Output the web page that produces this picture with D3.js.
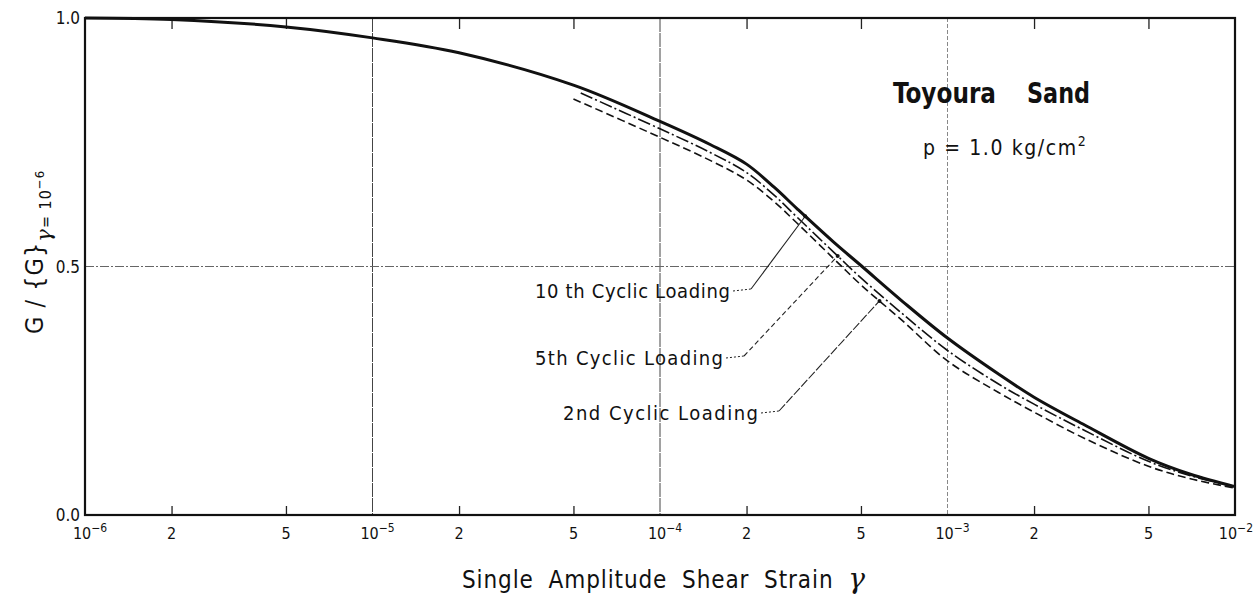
<!DOCTYPE html>
<html>
<head>
<meta charset="utf-8">
<script src="https://cdn.jsdelivr.net/npm/d3@7"></script>
<style>
  html, body { margin: 0; padding: 0; background: #fff; }
  svg { display: block; }
  text { font-family: "DejaVu Sans Condensed", "Liberation Sans Narrow", "DejaVu Sans", sans-serif; fill: #111; }
</style>
</head>
<body>
<svg id="chart" width="1256" height="596"></svg>
<script>
// Shear modulus reduction of Toyoura sand, p = 1.0 kg/cm2
// strain values (single amplitude) and normalised modulus G / G(γ=1e-6)

const strain10 = [1e-6, 2e-6, 5e-6, 1e-5, 2e-5, 5e-5, 1e-4, 1.5e-4, 2e-4, 2.5e-4, 3e-4, 4e-4, 5e-4, 7e-4, 1e-3, 1.5e-3, 2e-3, 3e-3, 5e-3, 7e-3, 1e-2];
const ratio10  = [1.0, 0.997, 0.982, 0.96, 0.93, 0.865, 0.792, 0.745, 0.706, 0.659, 0.616, 0.55, 0.502, 0.429, 0.356, 0.284, 0.237, 0.181, 0.114, 0.082, 0.057];

const strain5 = [5.3e-5, 1e-4, 1.5e-4, 2e-4, 2.5e-4, 3e-4, 4e-4, 5e-4, 7e-4, 1e-3, 1.5e-3, 2e-3, 3e-3, 5e-3, 7e-3, 1e-2];
const ratio5  = [0.849, 0.777, 0.729, 0.689, 0.643, 0.599, 0.53, 0.477, 0.404, 0.331, 0.264, 0.223, 0.17, 0.108, 0.079, 0.057];

const strain2 = [5e-5, 1e-4, 1.5e-4, 2e-4, 2.5e-4, 3e-4, 4e-4, 5e-4, 7e-4, 1e-3, 1.5e-3, 2e-3, 3e-3, 5e-3, 7e-3, 1e-2];
const ratio2  = [0.837, 0.76, 0.713, 0.674, 0.63, 0.587, 0.517, 0.463, 0.39, 0.31, 0.247, 0.207, 0.154, 0.098, 0.073, 0.054];

// axis ticks
const xTickValues = [1e-6, 2e-6, 5e-6, 1e-5, 2e-5, 5e-5, 1e-4, 2e-4, 5e-4, 1e-3, 2e-3, 5e-3, 1e-2];
const xTickLabels = ["10^-6", "2", "5", "10^-5", "2", "5", "10^-4", "2", "5", "10^-3", "2", "5", "10^-2"];
const xGridValues = [1e-5, 1e-4, 1e-3];
const yTickValues = [0, 0.5, 1.0];
const yTickLabels = ["0.0", "0.5", "1.0"];

// leader annotations: label, curve, strain at which the leader meets the curve
const noteLabels  = ["10 th  Cyclic  Loading", "5th  Cyclic  Loading", "2nd  Cyclic  Loading"];
const noteStrains = [3.2e-4, 4.15e-4, 5.8e-4];

const svg = d3.select("#chart");
const mLeft = 85, mRight = 1235, mTop = 18, mBottom = 515;

const x = d3.scaleLog().domain([1e-6, 1e-2]).range([mLeft, mRight]);
const y = d3.scaleLinear().domain([0, 1]).range([mBottom, mTop]);

// grid lines
svg.append("g").selectAll("line").data(xGridValues).join("line")
  .attr("x1", d => x(d)).attr("x2", d => x(d))
  .attr("y1", mTop).attr("y2", mBottom)
  .attr("stroke", (d, i) => i === 2 ? "#888" : "#444")
  .attr("stroke-width", 1)
  .attr("stroke-dasharray", (d, i) => i === 2 ? "4,2" : "14,1");

svg.append("line")
  .attr("x1", mLeft).attr("x2", mRight)
  .attr("y1", y(0.5)).attr("y2", y(0.5))
  .attr("stroke", "#666").attr("stroke-width", 1)
  .attr("stroke-dasharray", "9,2,2,2");

// minor ticks (2 and 5 of every decade) on bottom and top
const minor = xTickValues.filter((d, i) => !xTickLabels[i].startsWith("10"));
svg.append("g").attr("transform", `translate(0,${mBottom})`)
  .call(d3.axisBottom(x).tickValues(minor).tickSize(-9).tickFormat(""))
  .call(g => g.select(".domain").remove())
  .call(g => g.selectAll("line").attr("stroke", "#222").attr("stroke-width", 1.3));
svg.append("g").attr("transform", `translate(0,${mTop})`)
  .call(d3.axisTop(x).tickValues(minor).tickSize(-11).tickFormat(""))
  .call(g => g.select(".domain").remove())
  .call(g => g.selectAll("line").attr("stroke", "#222").attr("stroke-width", 1.3));

// frame
svg.append("rect")
  .attr("x", mLeft).attr("y", mTop)
  .attr("width", mRight - mLeft).attr("height", mBottom - mTop)
  .attr("fill", "none").attr("stroke", "#111").attr("stroke-width", 2.2);

// x tick labels
const lastTick = xTickValues.length - 1;
const xl = svg.append("g").selectAll("text").data(xTickValues).join("text")
  .attr("x", (d, i) => i === lastTick ? 1253 : x(d) + (xTickLabels[i].startsWith("10") ? 5 : 0))
  .attr("y", 539)
  .attr("text-anchor", (d, i) => i === lastTick ? "end" : "middle")
  .attr("font-size", 16);
xl.each(function (d, i) {
  const lab = xTickLabels[i];
  const t = d3.select(this);
  if (lab.startsWith("10^")) {
    t.append("tspan").text("10");
    t.append("tspan").attr("dy", -7).attr("font-size", 12).text(lab.slice(3).replace("-", "\u2212"));
  } else {
    t.text(lab);
  }
});

// y tick labels
svg.append("g").selectAll("text").data(yTickValues).join("text")
  .attr("x", 80).attr("y", d => y(d) + 6)
  .attr("text-anchor", "end").attr("font-size", 17)
  .text((d, i) => yTickLabels[i]);

// axis titles
const xt = svg.append("text")
  .attr("x", 462).attr("y", 588)
  .attr("font-size", 24)
  .attr("word-spacing", 7)
  .attr("letter-spacing", 0.9);
xt.append("tspan").text("Single  Amplitude  Shear  Strain ");
xt.append("tspan").attr("font-family", "DejaVu Serif, serif").attr("font-style", "italic").attr("font-size", 28).text("γ");

const yt = svg.append("text")
  .attr("transform", "translate(43,334) rotate(-90)")
  .attr("font-size", 25)
  .attr("letter-spacing", 1);
yt.append("tspan").text("G / {G}");
yt.append("tspan").attr("dy", 8).attr("font-size", 21).attr("font-family", "DejaVu Serif, serif").attr("font-style", "italic").text("γ");
yt.append("tspan").attr("font-size", 16).text("= 10");
yt.append("tspan").attr("dy", -7).attr("font-size", 13).text("\u22126");

// curves
const line = d3.line().x(d => x(d[0])).y(d => y(d[1])).curve(d3.curveCatmullRom.alpha(0.5));
const series = [
  { s: strain2, r: ratio2, w: 1.6, dash: "8,4" },
  { s: strain5, r: ratio5, w: 1.6, dash: "13,3,2,3" },
  { s: strain10, r: ratio10, w: 3, dash: null }
];
svg.append("g").selectAll("path").data(series).join("path")
  .attr("d", d => line(d3.zip(d.s, d.r)))
  .attr("fill", "none")
  .attr("stroke", "#111")
  .attr("stroke-width", d => d.w)
  .attr("stroke-dasharray", d => d.dash);

// title block
const tt = svg.append("text").attr("y", 103)
  .attr("font-size", 29).attr("font-weight", "bold");
tt.append("tspan").attr("x", 893).attr("textLength", 103).attr("lengthAdjust", "spacingAndGlyphs").text("Toyoura");
tt.append("tspan").attr("x", 1027).attr("textLength", 63).attr("lengthAdjust", "spacingAndGlyphs").text("Sand");

const pt = svg.append("text").attr("x", 923).attr("y", 155)
  .attr("font-size", 21).attr("letter-spacing", 1.6);
pt.append("tspan").text("p = 1.0 kg/cm");
pt.append("tspan").attr("dy", -9).attr("font-size", 14).text("2");

// leader annotations
function ratioAt(ss, rr, s) {
  const ls = ss.map(Math.log10);
  return d3.scaleLinear().domain(ls).range(rr)(Math.log10(s));
}
const noteCurves = [[strain10, ratio10], [strain5, ratio5], [strain2, ratio2]];
const noteX = [535, 535, 563];
const noteY = [298, 365, 420];
const noteW = [195, 188, 195];
const noteDash = ["none", "5,3", "9,2"];

noteLabels.forEach((lab, i) => {
  svg.append("text").attr("x", noteX[i]).attr("y", noteY[i])
    .attr("font-size", 20)
    .attr("textLength", noteW[i]).attr("lengthAdjust", "spacing")
    .text(lab);
  const tx = x(noteStrains[i]);
  const ty = y(ratioAt(noteCurves[i][0], noteCurves[i][1], noteStrains[i]));
  const sx = noteX[i] + noteW[i] + 3, sy = noteY[i] - 7;
  // short dotted lead-out from the label
  svg.append("line").attr("x1", sx).attr("y1", sy).attr("x2", sx + 18).attr("y2", sy - 2)
    .attr("stroke", "#222").attr("stroke-width", 1).attr("stroke-dasharray", "2,2");
  svg.append("line").attr("x1", sx + 18).attr("y1", sy - 2).attr("x2", tx).attr("y2", ty)
    .attr("stroke", "#222").attr("stroke-width", 1.1).attr("stroke-dasharray", noteDash[i]);
  svg.append("circle").attr("cx", tx).attr("cy", ty).attr("r", 2).attr("fill", "#111");
});
</script>
</body>
</html>
